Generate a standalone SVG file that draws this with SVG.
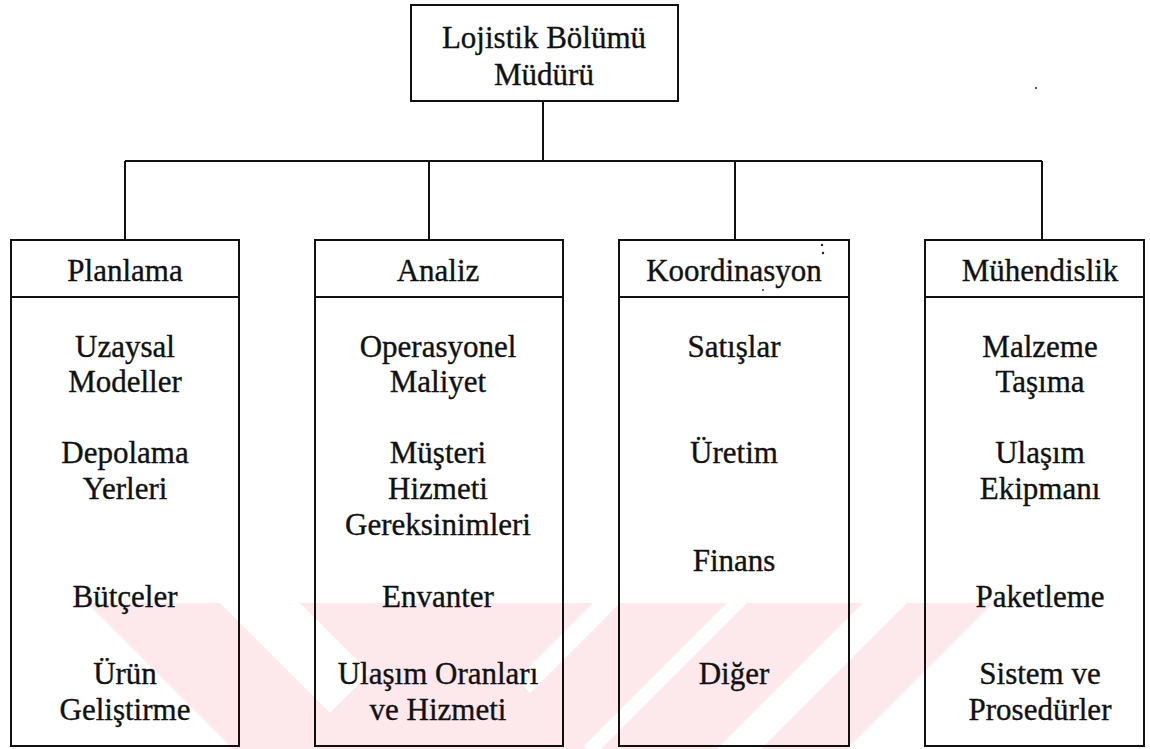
<svg xmlns="http://www.w3.org/2000/svg" width="1150" height="749" viewBox="0 0 1150 749">
  <defs>
    <style>
      .box { fill: none; stroke: #111; stroke-width: 2; }
      .line { fill: none; stroke: #111; stroke-width: 2; }
      .t { font-family: "Liberation Serif", "Times New Roman", Times, serif; font-size: 31px; fill: #111; stroke: #111; stroke-width: 0.35; text-anchor: middle; }
      .wm { fill: #fde8ec; }
    </style>
  </defs>
  <rect width="1150" height="749" fill="#ffffff"/>

  <!-- faint background mark along the bottom edge -->
  <g id="watermark">
    <polygon class="wm" points="87,603 220,603 366,749 233,749"/>
    <polygon class="wm" points="300,603 440,603 586,749 446,749"/>
    <polygon class="wm" points="440,603 593,603 447,749 294,749"/>
    <polygon class="wm" points="620,603 727,603 581,749 474,749"/>
    <polygon class="wm" points="747,603 863,603 717,749 601,749"/>
    <polygon class="wm" points="907,603 993,603 847,749 761,749"/>
  </g>

  <!-- connectors -->
  <g id="connectors">
    <line class="line" x1="543" y1="101" x2="543" y2="161"/>
    <line class="line" x1="125" y1="161" x2="1042" y2="161"/>
    <line class="line" x1="125" y1="161" x2="125" y2="240"/>
    <line class="line" x1="429" y1="161" x2="429" y2="240"/>
    <line class="line" x1="735" y1="161" x2="735" y2="240"/>
    <line class="line" x1="1042" y1="161" x2="1042" y2="240"/>
  </g>

  <g id="mudur">
    <rect class="box" x="411" y="5" width="267" height="96"/>
    <text class="t" x="544" y="48">Lojistik Bölümü</text>
    <text class="t" x="544" y="85">Müdürü</text>
  </g>

  <g id="planlama">
    <rect class="box" x="11" y="240" width="228" height="506"/>
    <line class="line" x1="11" y1="297" x2="239" y2="297"/>
    <text class="t" x="125" y="281">Planlama</text>
    <text class="t" x="125" y="357">Uzaysal</text>
    <text class="t" x="125" y="392">Modeller</text>
    <text class="t" x="125" y="463">Depolama</text>
    <text class="t" x="125" y="499">Yerleri</text>
    <text class="t" x="125" y="607">Bütçeler</text>
    <text class="t" x="125" y="684">Ürün</text>
    <text class="t" x="125" y="720">Geliştirme</text>
  </g>

  <g id="analiz">
    <rect class="box" x="315" y="240" width="248" height="506"/>
    <line class="line" x1="315" y1="297" x2="563" y2="297"/>
    <text class="t" x="438" y="281">Analiz</text>
    <text class="t" x="438" y="357">Operasyonel</text>
    <text class="t" x="438" y="392">Maliyet</text>
    <text class="t" x="438" y="463">Müşteri</text>
    <text class="t" x="438" y="499">Hizmeti</text>
    <text class="t" x="438" y="535">Gereksinimleri</text>
    <text class="t" x="438" y="607">Envanter</text>
    <text class="t" x="438" y="684">Ulaşım Oranları</text>
    <text class="t" x="438" y="720">ve Hizmeti</text>
  </g>

  <g id="koordinasyon">
    <rect class="box" x="619" y="240" width="230" height="506"/>
    <line class="line" x1="619" y1="297" x2="849" y2="297"/>
    <text class="t" x="734" y="281">Koordinasyon</text>
    <text class="t" x="734" y="357">Satışlar</text>
    <text class="t" x="734" y="463">Üretim</text>
    <text class="t" x="734" y="571">Finans</text>
    <text class="t" x="734" y="684">Diğer</text>
  </g>

  <g id="muhendislik">
    <rect class="box" x="925" y="240" width="219" height="506"/>
    <line class="line" x1="925" y1="297" x2="1144" y2="297"/>
    <text class="t" x="1040" y="281">Mühendislik</text>
    <text class="t" x="1040" y="357">Malzeme</text>
    <text class="t" x="1040" y="392">Taşıma</text>
    <text class="t" x="1040" y="463">Ulaşım</text>
    <text class="t" x="1040" y="499">Ekipmanı</text>
    <text class="t" x="1040" y="607">Paketleme</text>
    <text class="t" x="1040" y="684">Sistem ve</text>
    <text class="t" x="1040" y="720">Prosedürler</text>
  </g>

  <!-- small specks -->
  <g id="specks" fill="#222">
    <circle cx="1036" cy="88" r="1"/>
    <circle cx="822" cy="245" r="1.2"/>
    <circle cx="823" cy="253" r="1.2"/>
    <circle cx="763" cy="290" r="0.9"/>
  </g>
</svg>
